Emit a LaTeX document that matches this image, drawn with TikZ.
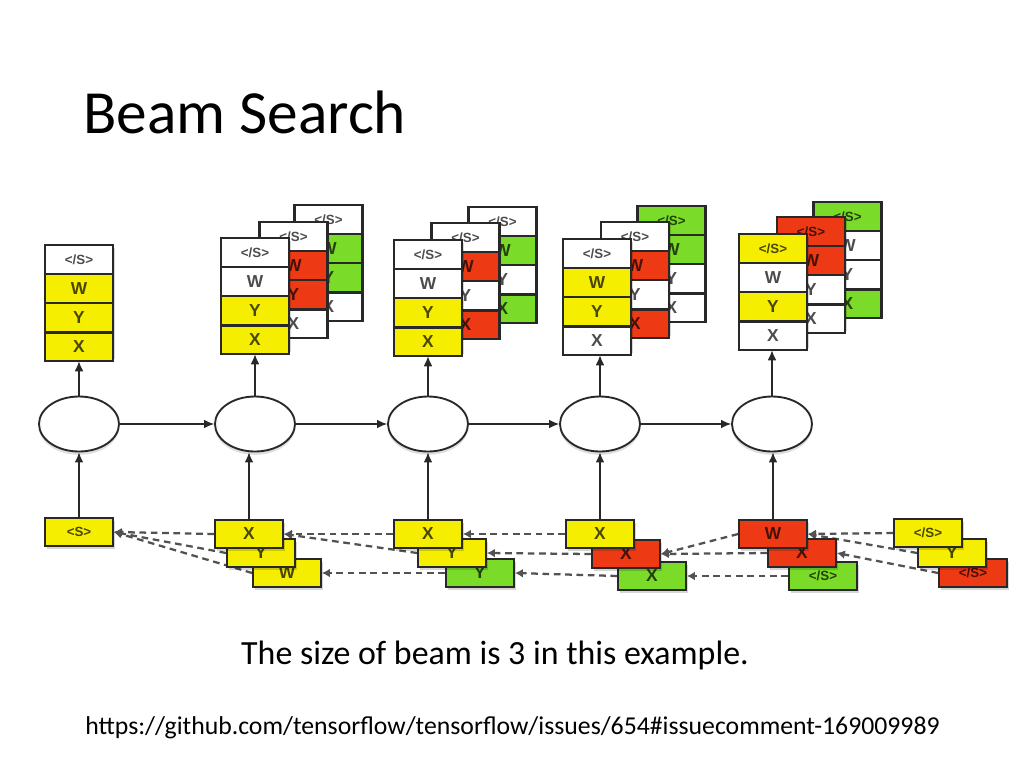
\documentclass[tikz,border=0pt]{standalone}
\usepackage{fontspec}
\setmainfont{Carlito}
\newfontfamily\arialf{Liberation Sans}
\usetikzlibrary{shadows,arrows.meta,shapes.geometric}
\definecolor{byel}{RGB}{246,238,0}
\definecolor{bred}{RGB}{238,58,20}
\definecolor{bgrn}{RGB}{122,220,40}
\definecolor{edge}{RGB}{40,40,40}
\pgfdeclarelayer{bg}
\pgfsetlayers{bg,main}
\tikzset{
  cell/.style={rectangle, draw=edge, line width=1pt, minimum width=50.25pt,
    minimum height=20.8pt, inner sep=0pt, text=black, text opacity=0.7,
    font=\arialf\bfseries\fontsize{13}{13}\selectfont},
  bcell/.style={cell, line width=1.3pt, minimum width=51pt, minimum height=21pt},
  cellshadow/.style={fill=black, opacity=0.16},
  rnn/.style={ellipse, draw=edge, line width=1.4pt, fill=white, minimum width=60pt,
    minimum height=41.25pt, inner sep=0pt,
    drop shadow={opacity=0.25, shadow xshift=0pt, shadow yshift=-2.5pt}},
  solidarrow/.style={draw=edge, line width=0.9pt, -{Latex[length=7.5pt,width=6.5pt]}},
  dasharrow/.style={draw=black!68, line width=1.7pt, dash pattern=on 5pt off 3.5pt,
    -{Latex[length=6pt,width=6.5pt]}},
  stackborder/.style={draw=edge, line width=1.6pt}
}
% stack: name, x center, y top, fills of </S>, W, Y, X
\newcommand{\stk}[7]{%
  \fill[cellshadow] (#2-31.5,#3+3) rectangle ++(67,111);
  \node[cell,fill=#4,anchor=north] (#1-1) at (#2,#3) {\fontsize{10}{10}\selectfont </S>};
  \node[cell,fill=#5,anchor=north] (#1-2) at (#1-1.south) {W};
  \node[cell,fill=#6,anchor=north] (#1-3) at (#1-2.south) {Y};
  \node[cell,fill=#7,anchor=north] (#1-4) at (#1-3.south) {X};
  \draw[stackborder] (#1-1.north west) rectangle (#1-4.south east);
}
% bottom box: name, x, y, fill, text
\newcommand{\bbx}[5]{%
  \fill[cellshadow] (#2-32,#3-11) rectangle ++(68,28);
  \node[bcell,fill=#4] (#1) at (#2,#3) {#5};
}
\begin{document}
\begin{tikzpicture}[x=0.75pt,y=-0.75pt]
\useasboundingbox (0,0) rectangle (1024,768);

\node[anchor=base west, inner sep=0pt, font=\fontsize{46}{50}\selectfont] (title) at (83,133) {Beam Search};

% top stacks
\stk{s1}{79}{245}{white}{byel}{byel}{byel}
\stk{s2c}{328.5}{205}{white}{bgrn}{bgrn}{white}
\stk{s2b}{293.5}{222}{white}{bred}{bred}{white}
\stk{s2a}{255}{238}{white}{white}{byel}{byel}
\stk{s3c}{502.5}{207}{white}{bgrn}{white}{bgrn}
\stk{s3b}{465.5}{223}{white}{bred}{white}{bred}
\stk{s3a}{428}{240}{white}{white}{byel}{byel}
\stk{s4c}{671.5}{206}{bgrn}{bgrn}{white}{white}
\stk{s4b}{635}{222}{white}{bred}{white}{bred}
\stk{s4a}{597}{239}{white}{byel}{byel}{white}
\stk{s5c}{847.5}{202}{bgrn}{white}{white}{bgrn}
\stk{s5b}{811}{217}{bred}{bred}{white}{white}
\stk{s5a}{773}{234}{byel}{white}{byel}{white}

% RNN cells
\node[rnn] (e1) at (79,424) {};
\node[rnn] (e2) at (255,424) {};
\node[rnn] (e3) at (428,424) {};
\node[rnn] (e4) at (600,424) {};
\node[rnn] (e5) at (772,424) {};

\draw[solidarrow] (e1.east) -- (e2.west);
\draw[solidarrow] (e2.east) -- (e3.west);
\draw[solidarrow] (e3.east) -- (e4.west);
\draw[solidarrow] (e4.east) -- (e5.west);

\draw[solidarrow] (e1.north) -- (s1-4.south);
\draw[solidarrow] (e2.north) -- (s2a-4.south);
\draw[solidarrow] (e3.north) -- (s3a-4.south);
\draw[solidarrow] (e4.north) -- (e4.north |- s4a-4.south);
\draw[solidarrow] (e5.north) -- (e5.north |- s5a-4.south);

% bottom boxes
\bbx{b1}{79}{532}{byel}{\fontsize{10}{10}\selectfont <S>}
\bbx{c2W}{287}{573}{byel}{W}
\bbx{c2Y}{261}{553}{byel}{Y}
\bbx{c2X}{249}{534}{byel}{X}
\bbx{c3G}{480}{573}{bgrn}{Y}
\bbx{c3Y}{452}{553}{byel}{Y}
\bbx{c3X}{428}{534}{byel}{X}
\bbx{c4G}{652}{576}{bgrn}{X}
\bbx{c4R}{626}{554}{bred}{X}
\bbx{c4X}{600}{534}{byel}{X}
\bbx{c5S}{823}{576}{bgrn}{\fontsize{10}{10}\selectfont </S>}
\bbx{c5X}{802}{553}{bred}{X}
\bbx{c5W}{773}{534}{bred}{W}
\bbx{c6R}{973}{573}{bred}{\fontsize{10}{10}\selectfont </S>}
\bbx{c6Y}{952}{553}{byel}{Y}
\bbx{c6S}{928}{533}{byel}{\fontsize{10}{10}\selectfont </S>}

\draw[solidarrow] (b1.north) -- (e1.south);
\draw[solidarrow] (c2X.north) -- (c2X.north |- e2.south);
\draw[solidarrow] (c3X.north) -- (e3.south);
\draw[solidarrow] (c4X.north) -- (e4.south);
\draw[solidarrow] (c5W.north) -- (c5W.north |- e5.south);

\begin{pgfonlayer}{bg}
\draw[dasharrow] (c2X.west) -- (b1.east);
\draw[dasharrow] (c2Y.west) -- (b1.east);
\draw[dasharrow] (c2W.west) -- (b1.east);
\draw[dasharrow] (c3X.west) -- (c2X.east);
\draw[dasharrow] (c3Y.west) -- (c2X.east);
\draw[dasharrow] (c3G.west) -- (c2W.east);
\draw[dasharrow] (c4X.west) -- (c3X.east);
\draw[dasharrow] (c4R.west) -- (c3Y.east);
\draw[dasharrow] (c4G.west) -- (c3G.east);
\draw[dasharrow] (c5W.west) -- (c4R.east);
\draw[dasharrow] (c5X.west) -- (c4R.east);
\draw[dasharrow] (c5S.west) -- (c4G.east);
\draw[dasharrow] (c6S.west) -- (c5W.east);
\draw[dasharrow] (c6Y.west) -- (c5W.east);
\draw[dasharrow] (c6R.west) -- (c5X.east);
\end{pgfonlayer}

\node[anchor=base, inner sep=0pt, font=\fontsize{25.4}{28}\selectfont] (cap) at (495,664) {The size of beam is 3 in this example.};
\node[anchor=base, inner sep=0pt, font=\fontsize{19.3}{22}\selectfont] (url) at (512.5,734) {https://github.com/tensorflow/tensorflow/issues/654\#issuecomment-169009989};
\end{tikzpicture}
\end{document}
